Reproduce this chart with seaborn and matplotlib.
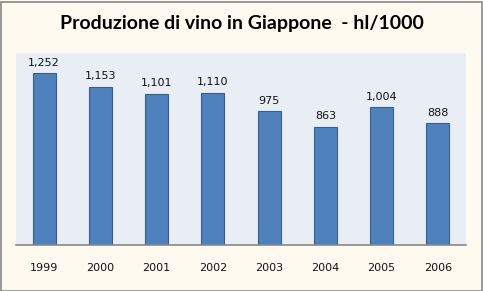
import matplotlib
matplotlib.use("Agg")
import matplotlib.pyplot as plt
import seaborn as sns
import pandas as pd
from matplotlib.patches import Rectangle

years = ["1999", "2000", "2001", "2002", "2003", "2004", "2005", "2006"]
values = [1252, 1153, 1101, 1110, 975, 863, 1004, 888]
title = "Produzione di vino in Giappone  - hl/1000"

df = pd.DataFrame({"year": years, "value": values})

sns.set_theme(style="white")
plt.rcParams['font.family'] = ['DejaVu Sans']

W, H = 483, 291
fig = plt.figure(figsize=(W/100, H/100), dpi=100)
fig.patch.set_facecolor("#FFFAF0")
fig.patches.append(Rectangle((0.5/W, 0.5/H), (W-2)/W, (H-2)/H, transform=fig.transFigure,
                             fill=False, edgecolor="#888888", linewidth=1.2))

ax = fig.add_axes([16/W, (H-245)/H, 450/W, 192/H])
ax.set_facecolor("#E9EDF4")
sns.barplot(data=df, x="year", y="value", ax=ax, color="#4F81BD", width=0.41,
            edgecolor="#385D8A", linewidth=0.8, saturation=1)
ax.set_ylim(0, 1400)
ax.set_xlim(-0.5, len(years) - 0.5)
ax.set_xlabel("")
ax.set_ylabel("")
ax.set_yticks([])
for s in ["top", "right", "left"]:
    ax.spines[s].set_visible(False)
ax.spines["bottom"].set_color("#888888")
ax.spines["bottom"].set_linewidth(1.2)
ax.tick_params(axis="x", length=0, pad=13, labelsize=8, labelcolor="#111111")
for lbl in ax.get_xticklabels():
    lbl.set_family("DejaVu Sans")

for i, v in enumerate(values):
    ax.annotate(f"{v:,}", (i, v), xytext=(0, 4), textcoords="offset points",
                ha="center", va="bottom", fontsize=8, color="#111111")

fig.text(0.5, (H-24)/H, title, ha="center", va="center", fontsize=14,
         fontweight="bold", family="Lato", color="#000000")

fig.savefig("out.png", dpi=100, facecolor=fig.get_facecolor())
